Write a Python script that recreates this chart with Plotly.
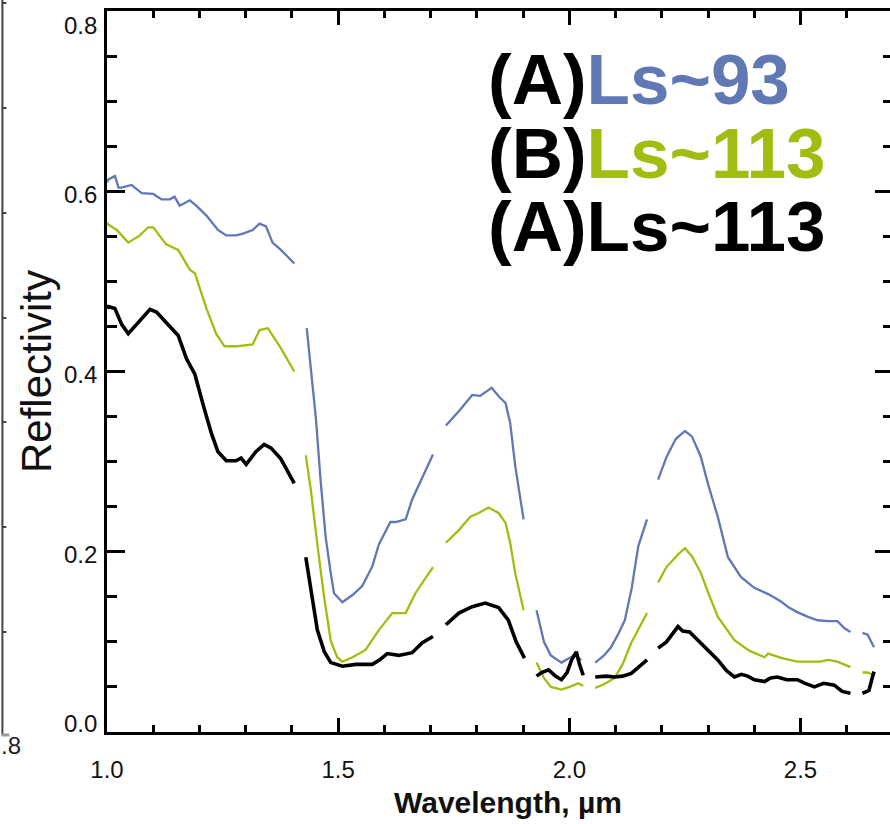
import plotly.graph_objects as go

# Reflectivity spectra; None marks the gaps between spectral segments
wl_a93 = [1.000, 1.003, 1.017, 1.025, 1.032, 1.053, 1.075, 1.100, 1.118, 1.136, 1.146, 1.157, 1.179, 1.193,
          1.215, 1.240, 1.258, 1.279, 1.294, 1.315, 1.330, 1.344, 1.358, 1.376, 1.405, None,
          1.432, 1.441, 1.452, 1.462, 1.473, 1.484, 1.491, 1.509, 1.531, 1.552, 1.574, 1.588, 1.613, 1.624,
          1.646, 1.660, 1.682, 1.705, None,
          1.733, 1.761, 1.790, 1.807, 1.832, 1.848, 1.862, 1.872, 1.883, 1.894, 1.901, None,
          1.929, 1.945, 1.960, 1.983, 2.000, 2.012, 2.020, 2.026, None,
          2.056, 2.075, 2.090, 2.105, 2.120, 2.135, 2.149, 2.160, 2.168, None,
          2.192, 2.210, 2.230, 2.250, 2.265, 2.284, 2.300, 2.321, 2.343, 2.371, 2.400, 2.430, 2.457, 2.475,
          2.493, 2.515, 2.537, 2.560, 2.580, 2.595, 2.608, None,
          2.634, 2.645, 2.659]
refl_a93 = [0.610, 0.613, 0.617, 0.604, 0.604, 0.607, 0.598, 0.597, 0.591, 0.591, 0.594, 0.584, 0.590, 0.584,
            0.573, 0.557, 0.551, 0.551, 0.553, 0.557, 0.564, 0.561, 0.543, 0.535, 0.520, None,
            0.448, 0.402, 0.347, 0.279, 0.216, 0.176, 0.154, 0.144, 0.152, 0.162, 0.184, 0.208, 0.233, 0.233,
            0.236, 0.258, 0.283, 0.308, None,
            0.340, 0.356, 0.374, 0.373, 0.382, 0.372, 0.365, 0.343, 0.295, 0.258, 0.236, None,
            0.135, 0.100, 0.085, 0.077, 0.082, 0.086, 0.082, 0.080, None,
            0.077, 0.085, 0.094, 0.108, 0.124, 0.160, 0.206, 0.225, 0.236, None,
            0.280, 0.305, 0.325, 0.334, 0.328, 0.306, 0.275, 0.239, 0.194, 0.172, 0.160, 0.153, 0.145, 0.138,
            0.133, 0.128, 0.124, 0.123, 0.123, 0.115, 0.111, None,
            0.110, 0.108, 0.094]

wl_b113 = [1.000, 1.003, 1.021, 1.046, 1.071, 1.089, 1.100, 1.128, 1.154, 1.179, 1.190, 1.215, 1.236, 1.254,
           1.279, 1.300, 1.315, 1.330, 1.348, 1.376, 1.394, 1.405, None,
           1.430, 1.441, 1.455, 1.470, 1.484, 1.498, 1.509, 1.531, 1.559, 1.588, 1.617, 1.646, 1.667, 1.705, None,
           1.733, 1.761, 1.786, 1.804, 1.825, 1.847, 1.862, 1.872, 1.883, 1.901, None,
           1.929, 1.945, 1.960, 1.983, 2.000, 2.019, 2.030, None,
           2.056, 2.075, 2.098, 2.115, 2.134, 2.150, 2.168, None,
           2.192, 2.210, 2.235, 2.250, 2.265, 2.284, 2.300, 2.321, 2.357, 2.390, 2.422, 2.430, 2.460, 2.493,
           2.543, 2.560, 2.580, 2.608, None,
           2.634, 2.645, 2.659]
refl_b113 = [0.565, 0.563, 0.557, 0.543, 0.551, 0.560, 0.560, 0.541, 0.535, 0.513, 0.509, 0.470, 0.442, 0.428,
             0.428, 0.429, 0.430, 0.446, 0.448, 0.426, 0.410, 0.400, None,
             0.307, 0.268, 0.208, 0.148, 0.101, 0.083, 0.078, 0.083, 0.091, 0.113, 0.132, 0.132, 0.154, 0.183, None,
             0.210, 0.224, 0.239, 0.243, 0.249, 0.243, 0.232, 0.210, 0.176, 0.135, None,
             0.077, 0.060, 0.050, 0.047, 0.050, 0.054, 0.051, None,
             0.049, 0.053, 0.060, 0.075, 0.099, 0.115, 0.132, None,
             0.166, 0.183, 0.197, 0.204, 0.195, 0.177, 0.155, 0.128, 0.102, 0.090, 0.083, 0.087, 0.082, 0.078,
             0.078, 0.080, 0.078, 0.072, None,
             0.066, 0.066, 0.063]

wl_a113 = [1.000, 1.003, 1.017, 1.032, 1.046, 1.071, 1.093, 1.107, 1.136, 1.154, 1.172, 1.190, 1.208, 1.226,
           1.240, 1.258, 1.279, 1.290, 1.301, 1.322, 1.340, 1.355, 1.376, 1.405, None,
           1.430, 1.441, 1.455, 1.470, 1.484, 1.509, 1.538, 1.574, 1.590, 1.606, 1.631, 1.660, 1.682, 1.705, None,
           1.733, 1.761, 1.790, 1.818, 1.847, 1.868, 1.885, 1.903, None,
           1.929, 1.940, 1.955, 1.970, 1.983, 1.995, 2.005, 2.015, 2.022, 2.030, None,
           2.056, 2.080, 2.098, 2.115, 2.134, 2.150, 2.168, None,
           2.192, 2.210, 2.235, 2.245, 2.260, 2.284, 2.300, 2.321, 2.340, 2.357, 2.372, 2.386, 2.400, 2.422,
           2.435, 2.450, 2.470, 2.493, 2.510, 2.530, 2.550, 2.573, 2.590, 2.608, None,
           2.634, 2.648, 2.655, 2.659]
refl_a113 = [0.470, 0.472, 0.470, 0.452, 0.442, 0.456, 0.469, 0.466, 0.450, 0.440, 0.414, 0.397, 0.363, 0.331,
             0.311, 0.301, 0.301, 0.304, 0.297, 0.311, 0.319, 0.315, 0.303, 0.276, None,
             0.194, 0.160, 0.113, 0.089, 0.077, 0.073, 0.075, 0.075, 0.080, 0.087, 0.085, 0.088, 0.099, 0.106, None,
             0.119, 0.132, 0.139, 0.143, 0.138, 0.124, 0.100, 0.082, None,
             0.062, 0.066, 0.069, 0.062, 0.058, 0.066, 0.080, 0.089, 0.075, 0.063, None,
             0.061, 0.062, 0.061, 0.062, 0.065, 0.072, 0.080, None,
             0.093, 0.100, 0.117, 0.112, 0.111, 0.099, 0.090, 0.080, 0.068, 0.061, 0.064, 0.062, 0.058, 0.056,
             0.060, 0.061, 0.058, 0.058, 0.054, 0.050, 0.054, 0.052, 0.045, 0.043, None,
             0.043, 0.046, 0.060, 0.067]

y_tick_vals = [0.0, 0.2, 0.4, 0.6, 0.8]
y_tick_text = ["0.0", "0.2", "0.4", "0.6", "0.8"]
x_tick_vals = [1.0, 1.5, 2.0, 2.5]
x_tick_text = ["1.0", "1.5", "2.0", "2.5"]

legend_rows = [("(A)", "Ls~93"), ("(B)", "Ls~113"), ("(A)", "Ls~113")]

BLUE = "#6078b4"
GREEN = "#a2bd12"
BLACK = "#000000"
FONT = "Liberation Sans, Arial, Helvetica, sans-serif"

# figure geometry (pixels)
W, H = 896, 824
ML, MT, MB = 107, 11, 92
PW, PH = W - ML, H - MT - MB


def px_x(px):
    return (px - ML) / PW


def px_y(py):
    return (H - MB - py) / PH


fig = go.Figure()
for wl, refl, color, width in [(wl_a93, refl_a93, BLUE, 2.3),
                                (wl_b113, refl_b113, GREEN, 2.3),
                                (wl_a113, refl_a113, BLACK, 3.6)]:
    fig.add_trace(go.Scatter(x=wl, y=refl, mode="lines", connectgaps=False,
                             line=dict(color=color, width=width), showlegend=False,
                             hoverinfo="skip"))

annotations = []
# y tick labels, nudged inside the frame at the ends
y_shift = {0.0: 9, 0.8: -14}
for v, t in zip(y_tick_vals, y_tick_text):
    annotations.append(dict(x=0, xref="paper", y=v, yref="y", text=t, showarrow=False,
                            xanchor="right", yanchor="middle", xshift=-8,
                            yshift=y_shift.get(v, -3),
                            font=dict(family=FONT, size=24, color="#111")))

# x axis title
annotations.append(dict(x=px_x(510), xref="paper", y=px_y(802), yref="paper",
                        text="<b>Wavelength, µm</b>", showarrow=False,
                        xanchor="center", yanchor="middle",
                        font=dict(family=FONT, size=30, color="#111")))

# coloured key text
row_colors = [BLUE, GREEN, BLACK]
row_base = [104, 177, 251]
for (tag, lab), col, base in zip(legend_rows, row_colors, row_base):
    annotations.append(dict(x=px_x(487), xref="paper", y=px_y(base - 24), yref="paper",
                            text=f"<b>{tag}<span style='color:{col}'>{lab}</span></b>",
                            showarrow=False, xanchor="left", yanchor="middle",
                            font=dict(family=FONT, size=71, color=BLACK)))

# neighbouring panel edge at the far left
annotations.append(dict(x=px_x(-1), xref="paper", y=px_y(745), yref="paper", text=".8",
                        showarrow=False, xanchor="left", yanchor="middle",
                        font=dict(family=FONT, size=24, color="#222")))

shapes = [dict(type="line", xref="paper", yref="paper", x0=px_x(2), x1=px_x(2),
               y0=px_y(0), y1=px_y(735), line=dict(color="#444", width=2))]
for ty in [3, 108, 213, 318, 422, 527, 632]:
    shapes.append(dict(type="line", xref="paper", yref="paper", x0=px_x(2), x1=px_x(6),
                       y0=px_y(ty), y1=px_y(ty), line=dict(color="#444", width=2)))
shapes.append(dict(type="line", xref="paper", yref="paper", x0=px_x(1), x1=px_x(9),
                   y0=px_y(735), y1=px_y(735), line=dict(color="#999", width=3)))

fig.update_layout(
    width=W, height=H,
    margin=dict(l=ML, r=0, t=MT, b=MB),
    paper_bgcolor="white", plot_bgcolor="white",
    font=dict(family=FONT, color=BLACK),
    annotations=annotations, shapes=shapes,
    xaxis=dict(range=[1.0, 2.7], showgrid=False, zeroline=False,
               showline=True, linecolor=BLACK, linewidth=3, mirror="allticks",
               ticks="inside", ticklen=14, tickwidth=2.5, tickcolor=BLACK,
               tickvals=x_tick_vals, ticktext=x_tick_text, ticklabelstandoff=14,
               tickfont=dict(family=FONT, size=24, color="#111"),
               minor=dict(dtick=0.1, tick0=1.0, ticks="inside", ticklen=7, tickwidth=2.5,
                          tickcolor=BLACK, showgrid=False)),
    yaxis=dict(range=[0.0, 0.8], showgrid=False, zeroline=False,
               showline=True, linecolor=BLACK, linewidth=3, mirror="allticks",
               ticks="inside", ticklen=18, tickwidth=2.5, tickcolor=BLACK,
               tickvals=y_tick_vals, showticklabels=False,
               minor=dict(dtick=0.05, tick0=0.0, ticks="inside", ticklen=10, tickwidth=2.5,
                          tickcolor=BLACK, showgrid=False),
               title=dict(text="Reflectivity", standoff=40,
                          font=dict(family=FONT, size=42, color="#111"))),
)

fig.write_html("out.html", post_script="document.body.style.overflow='hidden';")
